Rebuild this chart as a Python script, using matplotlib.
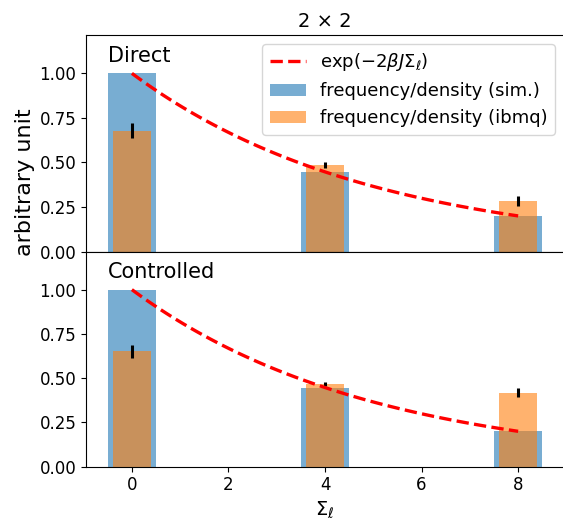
import numpy as np
import matplotlib
matplotlib.use("Agg")
from matplotlib import pyplot as plt

# energy levels (sum over plaquettes) and measured frequencies
sigma = [0, 4, 8]
sim_direct = [1.0, 0.447, 0.200]
ibmq_direct = [0.678, 0.485, 0.284]
err_direct = [0.042, 0.015, 0.030]

sim_ctrl = [1.0, 0.447, 0.202]
ibmq_ctrl = [0.651, 0.468, 0.419]
err_ctrl = [0.035, 0.012, 0.028]

# theory curve exp(-2 beta J Sigma), with 2*beta*J
two_beta_j = 0.2012
sig_line = np.linspace(0, 8, 100)

panels = [("Direct", sim_direct, ibmq_direct, err_direct),
          ("Controlled", sim_ctrl, ibmq_ctrl, err_ctrl)]

fig = plt.figure(figsize=(5.63, 5.23), dpi=100)
ax1 = fig.add_axes([0.1528, 0.519, 0.849, 0.414])
ax2 = fig.add_axes([0.1528, 0.1076, 0.849, 0.4114], sharex=ax1)

for ax, (name, sim, ibmq, err) in zip([ax1, ax2], panels):
    ax.plot(sig_line, np.exp(-two_beta_j * sig_line), 'r--', lw=2.4,
            label=r'$\exp(-2\beta J \Sigma_\ell)$', zorder=3)
    ax.bar(sigma, sim, width=1.0, color='C0', alpha=0.6,
           label='frequency/density (sim.)')
    ax.bar(sigma, ibmq, width=0.8, color='C1', alpha=0.6,
           label='frequency/density (ibmq)')
    ax.errorbar(sigma, ibmq, yerr=err, fmt='none', ecolor='k', elinewidth=2.2)
    ax.text(-0.5, 1.065, name, fontsize=15)
    ax.set_ylim(0, 1.215)
    ax.set_yticks([0, 0.25, 0.5, 0.75, 1.0])
    ax.tick_params(labelsize=12)

ax1.set_xlim(-0.95, 8.95)
ax1.tick_params(labelbottom=False)
ax1.legend(loc='upper right', fontsize=13)
ax1.set_title('2 × 2', fontsize=14)
ax2.set_xlabel(r'$\Sigma_\ell$', fontsize=14)
ax2.set_xticks([0, 2, 4, 6, 8])
fig.text(0.045, 1 - 182 / 523, 'arbitrary unit', rotation=90,
         fontsize=16, ha='center', va='center')

fig.savefig('out.png', dpi=100)
